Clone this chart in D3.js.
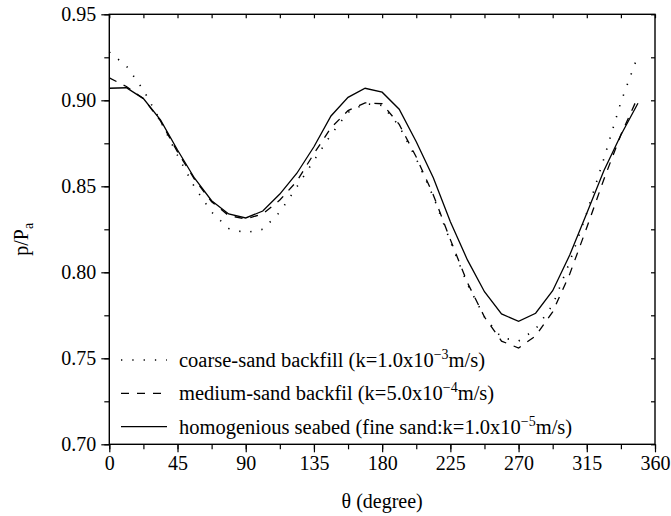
<!DOCTYPE html>
<html>
<head>
<meta charset="utf-8">
<script src="https://cdn.jsdelivr.net/npm/d3@7"></script>
<style>
  body { margin: 0; background: #fff; }
  .chart text { font-family: "Liberation Serif", "Times New Roman", serif; fill: #000; }
</style>
</head>
<body>
<svg class="chart"></svg>
<script>
var angles = [0, 11.25, 22.5, 33.75, 45, 56.25, 67.5, 78.75, 90, 101.25, 112.5, 123.75,
  135, 146.25, 157.5, 168.75, 180, 191.25, 202.5, 213.75, 225, 236.25, 247.5, 258.75,
  270, 281.25, 292.5, 303.75, 315, 326.25, 337.5, 348.75];

var coarse = [0.928, 0.920, 0.906, 0.888, 0.868, 0.8495, 0.835, 0.8255, 0.823, 0.825, 0.835, 0.8497,
  0.865, 0.880, 0.893, 0.898, 0.897, 0.885, 0.866, 0.844, 0.818, 0.793, 0.774, 0.762,
  0.760, 0.767, 0.781, 0.806, 0.8345, 0.866, 0.899, 0.926];

var medium = [0.913, 0.908, 0.901, 0.888, 0.870, 0.854, 0.841, 0.833, 0.831, 0.834, 0.842, 0.853,
  0.869, 0.884, 0.894, 0.8985, 0.898, 0.886, 0.867, 0.845, 0.819, 0.794, 0.774, 0.760,
  0.756, 0.763, 0.777, 0.799, 0.826, 0.854, 0.880, 0.902];

var fine = [0.907, 0.9073, 0.901, 0.8886, 0.8711, 0.8547, 0.8416, 0.8339, 0.8316, 0.8356, 0.8455, 0.8576,
  0.8730, 0.8909, 0.9017, 0.9070, 0.9047, 0.8948, 0.8759, 0.855, 0.8294, 0.8072, 0.7887, 0.7758,
  0.7715, 0.7762, 0.7893, 0.810, 0.8343, 0.8590, 0.8798, 0.8983];

var x_ticks = [0, 45, 90, 135, 180, 225, 270, 315, 360];
var y_ticks = [0.70, 0.75, 0.80, 0.85, 0.90, 0.95];

var series = [
  {values: coarse, dash: "1.3,10", label: "coarse-sand backfill (k=1.0x10", exp: "\u22123", tail: "m/s)"},
  {values: medium, dash: "8,8", label: "medium-sand backfil (k=5.0x10", exp: "\u22124", tail: "m/s)"},
  {values: fine, dash: null, label: "homogenious seabed (fine sand:k=1.0x10", exp: "\u22125", tail: "m/s)"}
];

var width = 671, height = 516;
var plot = {left: 109.3, right: 655, top: 14.3, bottom: 444.3};

var svg = d3.select(".chart")
    .attr("width", width)
    .attr("height", height);

var x = d3.scaleLinear().domain([0, 360]).range([plot.left, plot.right]);
var y = d3.scaleLinear().domain([0.70, 0.95]).range([plot.bottom, plot.top]);

var minor_x = d3.range(0, 361, 22.5);
var minor_y = d3.range(0.70, 0.951, 0.025);

// bottom and left axes, ticks outward
var xAxis = d3.axisBottom(x).tickValues(x_ticks).tickSize(8).tickPadding(4).tickFormat(d3.format("d"));
var yAxis = d3.axisLeft(y).tickValues(y_ticks).tickSize(8).tickPadding(5).tickFormat(d3.format(".2f"));

svg.append("g")
    .attr("transform", "translate(0," + plot.bottom + ")")
    .call(d3.axisBottom(x).tickValues(minor_x).tickSize(5).tickFormat(""));
svg.append("g")
    .attr("transform", "translate(" + plot.left + ",0)")
    .call(d3.axisLeft(y).tickValues(minor_y).tickSize(5).tickFormat(""));

svg.append("g")
    .attr("transform", "translate(0," + plot.bottom + ")")
    .call(xAxis);
svg.append("g")
    .attr("transform", "translate(" + plot.left + ",0)")
    .call(yAxis);

// top and right mirror ticks, inward
svg.append("g")
    .attr("transform", "translate(0," + plot.top + ")")
    .call(d3.axisBottom(x).tickValues(minor_x).tickSize(4).tickFormat(""));
svg.append("g")
    .attr("transform", "translate(" + plot.right + ",0)")
    .call(d3.axisLeft(y).tickValues(minor_y).tickSize(4).tickFormat(""));

svg.selectAll(".domain").remove();
svg.selectAll(".tick line").attr("stroke", "#000").attr("stroke-width", 1.2);
svg.selectAll(".tick text").style("font-size", "20px").style("font-family", "Liberation Serif");

svg.append("rect")
    .attr("x", plot.left)
    .attr("y", plot.top)
    .attr("width", plot.right - plot.left)
    .attr("height", plot.bottom - plot.top)
    .attr("fill", "none")
    .attr("stroke", "#000")
    .attr("stroke-width", 1.4);

var line = d3.line()
    .x(function(d, i) { return x(angles[i]); })
    .y(function(d) { return y(d); });

svg.selectAll(".curve")
    .data(series)
  .enter().append("path")
    .attr("class", "curve")
    .attr("d", function(d) { return line(d.values); })
    .attr("fill", "none")
    .attr("stroke", "#000")
    .attr("stroke-width", function(d) { return d.dash == "1.3,10" ? 1.6 : 1.3; })
    .attr("stroke-dasharray", function(d) { return d.dash; });

// legend
var legend = svg.selectAll(".legend")
    .data(series)
  .enter().append("g")
    .attr("class", "legend")
    .attr("transform", function(d, i) { return "translate(121," + (360 + i * 33.3) + ")"; });

legend.append("line")
    .attr("x1", 0)
    .attr("x2", 46)
    .attr("stroke", "#000")
    .attr("stroke-width", function(d) { return d.dash == "1.3,10" ? 1.6 : 1.3; })
    .attr("stroke-dasharray", function(d) { return d.dash; });

var lt = legend.append("text")
    .attr("x", 58)
    .attr("y", 7)
    .style("font-size", "20.5px");
lt.append("tspan").text(function(d) { return d.label; });
lt.append("tspan").attr("dy", -8).style("font-size", "14px").text(function(d) { return d.exp; });
lt.append("tspan").attr("dy", 8).text(function(d) { return d.tail; });

// axis titles
svg.append("text")
    .attr("x", (plot.left + plot.right) / 2)
    .attr("y", 508)
    .attr("text-anchor", "middle")
    .style("font-size", "20px")
    .text("\u03b8 (degree)");

var yl = svg.append("text")
    .attr("transform", "translate(28," + ((plot.top + plot.bottom) / 2 + 10) + ") rotate(-90)")
    .attr("text-anchor", "middle")
    .style("font-size", "20px");
yl.append("tspan").text("p/P");
yl.append("tspan").attr("dy", 5).style("font-size", "14px").text("a");
</script>
</body>
</html>
